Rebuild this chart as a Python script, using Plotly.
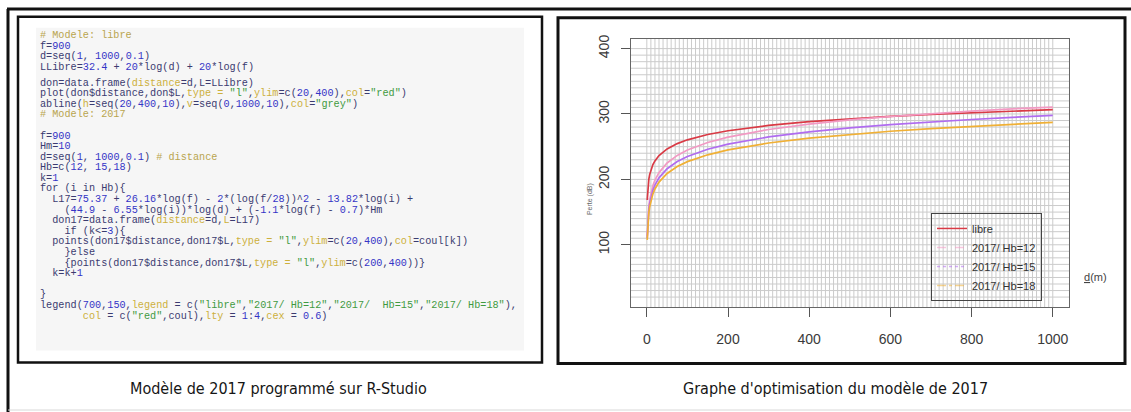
import plotly.graph_objects as go

# ---------------- data ----------------
distance_m = [1, 2, 3, 5, 7, 10, 15, 20, 30, 50, 75, 100, 150, 200, 300, 400,
              500, 600, 700, 800, 900, 1000]
perte_libre = [168.4, 182.3, 190.4, 200.6, 207.3, 214.5, 222.6, 228.3, 236.4, 246.6,
               254.7, 260.5, 268.6, 274.4, 282.5, 288.2, 292.7, 296.3, 299.4, 302.1,
               304.4, 306.6]
perte_hb12 = [113.1, 132.9, 144.6, 159.2, 168.8, 179.0, 190.6, 198.8, 210.4, 225.1,
              236.7, 244.9, 256.5, 264.7, 276.3, 284.6, 291.0, 296.2, 300.6, 304.4,
              307.8, 310.5]
perte_hb15 = [110.0, 128.8, 139.8, 153.7, 162.9, 172.5, 183.5, 191.4, 202.4, 216.3,
              227.2, 235.1, 246.1, 253.9, 264.9, 272.7, 278.8, 283.7, 287.9, 291.6,
              294.9, 298.0]
perte_hb18 = [107.5, 125.5, 136.0, 149.3, 158.0, 167.3, 177.8, 185.3, 195.8, 209.1,
              219.6, 227.1, 237.6, 245.1, 255.6, 263.1, 268.9, 273.6, 277.6, 281.1,
              284.3, 287.3]
series_names = ["libre", "2017/ Hb=12", "2017/ Hb=15", "2017/ Hb=18"]
x_ticks = [0, 200, 400, 600, 800, 1000]
y_ticks = [100, 200, 300, 400]
grid_v = list(range(0, 1001, 10))
grid_h = list(range(20, 401, 10))

# ---------------- styles ----------------
W, H = 1131, 412
def px(x):
    return x / W
def py(y):
    return 1 - y / H

colors = ["#d93a45", "#f29ac4", "#b06cf0", "#f0b035"]
legend_dash = ["solid", "dash", "dot", "dashdot"]
legend_opacity = [1.0, 0.55, 0.55, 0.55]
x_range = [-38.96, 1039.96]
y_range = [4.8, 415.2]

fig = go.Figure()
for name, vals, col in zip(series_names, [perte_libre, perte_hb12, perte_hb15, perte_hb18], colors):
    fig.add_trace(go.Scatter(x=distance_m, y=vals, mode="lines", name=name,
                             line=dict(color=col, width=1.7), showlegend=False,
                             hoverinfo="skip"))
for name, col, dash, op in zip(series_names, colors, legend_dash, legend_opacity):
    fig.add_trace(go.Scatter(x=[None], y=[None], mode="lines", name=name, opacity=op,
                             line=dict(color=col, width=1.5, dash=dash), showlegend=True))

shapes = []
# code panel background and frames
shapes.append(dict(type="rect", xref="paper", yref="paper", x0=px(36), x1=px(524),
                   y0=py(350), y1=py(24), fillcolor="#f6f6f6", line=dict(width=0), layer="below"))
shapes.append(dict(type="rect", xref="paper", yref="paper", x0=px(18), x1=px(542),
                   y0=py(362), y1=py(13), line=dict(color="#111", width=2.5)))
shapes.append(dict(type="rect", xref="paper", yref="paper", x0=px(558), x1=px(1125),
                   y0=py(363), y1=py(14), line=dict(color="#111", width=3)))
shapes.append(dict(type="line", xref="paper", yref="paper", x0=px(7), x1=1,
                   y0=py(5), y1=py(5), line=dict(color="#111", width=3)))
shapes.append(dict(type="line", xref="paper", yref="paper", x0=px(8), x1=px(8),
                   y0=py(5), y1=0, line=dict(color="#111", width=3)))
shapes.append(dict(type="line", xref="paper", yref="paper", x0=px(8), x1=1,
                   y0=py(410), y1=py(410), line=dict(color="#d8d8d8", width=1)))
# abline grid
for v in grid_v:
    shapes.append(dict(type="line", xref="x", yref="y", x0=v, x1=v, y0=y_range[0], y1=y_range[1],
                       line=dict(color="#cbcbcb", width=1), layer="below"))
for h in grid_h:
    shapes.append(dict(type="line", xref="x", yref="y", x0=x_range[0], x1=x_range[1], y0=h, y1=h,
                       line=dict(color="#cbcbcb", width=1), layer="below"))

# ---------------- code text ----------------
kind_col = {"c": "#b9a54e", "n": "#3b3b70", "d": "#3434c6", "s": "#3f9a3f", "a": "#cdb03c"}
code_lines = [
    [("# Modele: libre", "c")],
    [("f=", "n"), ("900", "d")],
    [("d=seq(", "n"), ("1", "d"), (", ", "n"), ("1000", "d"), (",", "n"), ("0.1", "d"), (")", "n")],
    [("LLibre=", "n"), ("32.4", "d"), (" + ", "n"), ("20", "d"), ("*log(d) + ", "n"), ("20", "d"), ("*log(f)", "n")],
    [("don=data.frame(", "n"), ("distance", "a"), ("=d,L=LLibre)", "n")],
    [("plot(don$distance,don$L,", "n"), ("type = ", "a"), ('"l"', "s"), (",", "n"), ("ylim", "a"),
     ("=c(", "n"), ("20", "d"), (",", "n"), ("400", "d"), ("),", "n"), ("col", "a"), ("=", "n"),
     ('"red"', "s"), (")", "n")],
    [("abline(", "n"), ("h", "a"), ("=seq(", "n"), ("20", "d"), (",", "n"), ("400", "d"), (",", "n"),
     ("10", "d"), ("),", "n"), ("v", "a"), ("=seq(", "n"), ("0", "d"), (",", "n"), ("1000", "d"),
     (",", "n"), ("10", "d"), ("),", "n"), ("col", "a"), ("=", "n"), ('"grey"', "s"), (")", "n")],
    [("# Modele: 2017", "c")],
    [],
    [("f=", "n"), ("900", "d")],
    [("Hm=", "n"), ("10", "d")],
    [("d=seq(", "n"), ("1", "d"), (", ", "n"), ("1000", "d"), (",", "n"), ("0.1", "d"), (") ", "n"),
     ("# distance", "c")],
    [("Hb=c(", "n"), ("12", "d"), (", ", "n"), ("15", "d"), (",", "n"), ("18", "d"), (")", "n")],
    [("k=", "n"), ("1", "d")],
    [("for (i in Hb){", "n")],
    [("  L17=", "n"), ("75.37", "d"), (" + ", "n"), ("26.16", "d"), ("*log(f) - ", "n"), ("2", "d"),
     ("*(log(f/", "n"), ("28", "d"), ("))^", "n"), ("2", "d"), (" - ", "n"), ("13.82", "d"),
     ("*log(i) +", "n")],
    [("    (", "n"), ("44.9", "d"), (" - ", "n"), ("6.55", "d"), ("*log(i))*log(d) + (-", "n"),
     ("1.1", "d"), ("*log(f) - ", "n"), ("0.7", "d"), (")*Hm", "n")],
    [("  don17=data.frame(", "n"), ("distance", "a"), ("=d,", "n"), ("L", "a"), ("=L17)", "n")],
    [("    if (k&lt;=", "n"), ("3", "d"), ("){", "n")],
    [("  points(don17$distance,don17$L,", "n"), ("type = ", "a"), ('"l"', "s"), (",", "n"),
     ("ylim", "a"), ("=c(", "n"), ("20", "d"), (",", "n"), ("400", "d"), ("),", "n"), ("col", "a"),
     ("=coul[k])", "n")],
    [("    }else", "n")],
    [("    {points(don17$distance,don17$L,", "n"), ("type = ", "a"), ('"l"', "s"), (",", "n"),
     ("ylim", "a"), ("=c(", "n"), ("200", "d"), (",", "n"), ("400", "d"), ("))}", "n")],
    [("  k=k+", "n"), ("1", "d")],
    [],
    [("}", "n")],
    [("legend(", "n"), ("700", "d"), (",", "n"), ("150", "d"), (",", "n"), ("legend", "a"),
     (" = c(", "n"), ('"libre"', "s"), (",", "n"), ('"2017/ Hb=12"', "s"), (",", "n"),
     ('"2017/  Hb=15"', "s"), (",", "n"), ('"2017/ Hb=18"', "s"), ("),", "n")],
    [("       col", "a"), (" = c(", "n"), ('"red"', "s"), (",coul),", "n"), ("lty", "a"),
     (" = ", "n"), ("1", "d"), (":", "n"), ("4", "d"), (",", "n"), ("cex", "a"), (" = ", "n"),
     ("0.6", "d"), (")", "n")],
]

annotations = []
line_step = 10.7
for i, segs in enumerate(code_lines):
    if not segs:
        continue
    yline = 32 + i * line_step + (5 if i >= 4 else 0)
    txt = "".join('<span style="color:%s">%s</span>' % (kind_col[k], t.replace(" ", "\u00a0"))
                  for t, k in segs)
    annotations.append(dict(x=px(38), y=py(yline), xref="paper", yref="paper", xanchor="left",
                            yanchor="middle", showarrow=False, text=txt,
                            font=dict(family="Liberation Mono, DejaVu Sans Mono, monospace",
                                      size=10.2)))

cap_font = dict(family="DejaVu Sans Condensed, Liberation Sans, Arial, sans-serif",
                size=16, color="#161616")
annotations.append(dict(x=px(278), y=py(388), xref="paper", yref="paper", showarrow=False,
                        xanchor="center", yanchor="middle",
                        text="Modèle de 2017 programmé sur R-Studio", font=cap_font))
annotations.append(dict(x=px(835), y=py(388), xref="paper", yref="paper", showarrow=False,
                        xanchor="center", yanchor="middle",
                        text="Graphe d'optimisation du modèle de 2017", font=cap_font))
annotations.append(dict(x=px(590), y=py(197), xref="paper", yref="paper", showarrow=False,
                        xanchor="center", yanchor="middle",
                        text="Perte (dB)", textangle=-90,
                        font=dict(family="Liberation Sans, Arial", size=7, color="#666")))
annotations.append(dict(x=px(1095), y=py(276), xref="paper", yref="paper", showarrow=False,
                        xanchor="center", yanchor="middle",
                        text="<u>d</u>(m)",
                        font=dict(family="Liberation Sans, Arial", size=11, color="#444")))

axis_font = dict(family="Liberation Sans, Arial, sans-serif", size=14, color="#3a3a3a")
fig.update_layout(
    width=W, height=H, autosize=False,
    margin=dict(l=0, r=0, t=0, b=0),
    paper_bgcolor="white", plot_bgcolor="white",
    shapes=shapes, annotations=annotations,
    xaxis=dict(domain=[px(631), px(1069)], range=x_range, tickvals=x_ticks,
               ticks="outside", ticklen=9, tickcolor="#555", showline=True, mirror=True,
               linecolor="#666", linewidth=1, showgrid=False, zeroline=False,
               tickfont=axis_font, ticklabelstandoff=10),
    yaxis=dict(domain=[py(306), py(35)], range=y_range, tickvals=y_ticks, tickangle=-90,
               ticks="outside", ticklen=9, tickcolor="#555", showline=True, mirror=True,
               linecolor="#666", linewidth=1, showgrid=False, zeroline=False,
               tickfont=axis_font, ticklabelstandoff=6),
    legend=dict(x=px(931), y=py(211), xanchor="left", yanchor="top",
                bordercolor="#444", borderwidth=1, bgcolor="rgba(0,0,0,0)",
                font=dict(family="Liberation Sans, Arial, sans-serif", size=11, color="#333"),
                tracegroupgap=0, itemwidth=30),
)

fig.write_html("out.html", config={"displayModeBar": False},
               post_script="document.body.style.margin='0px';")
